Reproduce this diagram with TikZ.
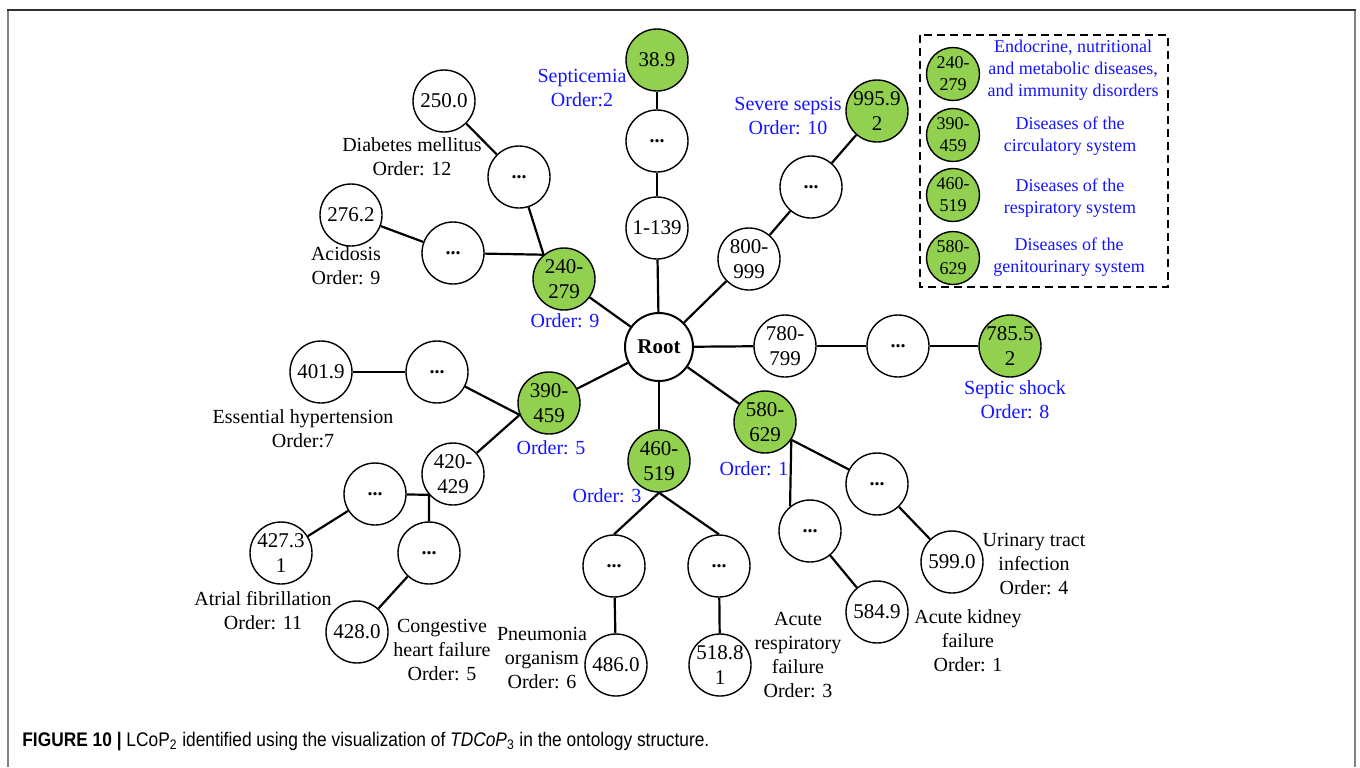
\documentclass[tikz,border=0pt]{standalone}
\usepackage{graphicx}
\usepackage{fontspec}
\setmainfont{Liberation Serif}
\newfontfamily\capfont{Liberation Sans}
\definecolor{lgreen}{RGB}{146,208,80}
\definecolor{lblue}{RGB}{20,20,255}
\definecolor{framegray}{RGB}{130,130,130}
\definecolor{framedark}{RGB}{50,50,50}
\tikzset{
 circ/.style={circle, draw, line width=0.7pt, minimum size=31pt, inner sep=0pt, align=center, font=\rmfamily\fontsize{10.5}{12.5}\selectfont},
 gcirc/.style={circ, fill=lgreen},
 dotc/.style={circ, font=\rmfamily\bfseries\fontsize{10}{12}\selectfont},
 edge/.style={line width=1.1pt},
 lbl/.style={align=center, font=\rmfamily\fontsize{10}{12}\selectfont, inner sep=0pt},
 blbl/.style={lbl, text=lblue},
 legc/.style={circle, draw, fill=lgreen, line width=0.7pt, minimum size=26.5pt, inner sep=0pt, align=center, font=\rmfamily\fontsize{9}{11}\selectfont},
 legt/.style={align=center, text=lblue, font=\rmfamily\fontsize{9}{11}\selectfont, inner sep=0pt},
}
\begin{document}
\begin{tikzpicture}[x=0.5pt,y=-0.5pt]
\useasboundingbox (0,0) rectangle (1360,767);
% frame
\draw[framegray, line width=1pt] (8,10) -- (8,767);
\draw[framegray, line width=1pt] (1355,10) -- (1355,767);
\draw[framedark, line width=1pt] (7,10) -- (1356,10);

% root
\node[circ, minimum size=34pt, line width=1pt, font=\rmfamily\bfseries\fontsize{10.5}{12.5}\selectfont] (root) at (659,347) {Root};

% top branch
\node[circ] (n1) at (657,228) {1-139};
\node[dotc] (e0) at (657,141) {...};
\node[gcirc] (g389) at (657,60) {38.9};
\node[blbl] (lsep) at (582,88) {Septicemia\\Order:2};

% 800-999 branch
\node[circ] (n800) at (749,259) {800-\\999};
\node[dotc] (e11) at (811,187) {...};
\node[gcirc] (g995) at (877,111) {995.9\\2};
\node[blbl] (lsev) at (788,116) {Severe sepsis\\Order: 10};

% 240-279 branch
\node[gcirc] (g240) at (564,279) {240-\\279};
\node[blbl] (l240) at (565,321) {Order: 9};
\node[dotc] (e1) at (519,177) {...};
\node[circ] (n250) at (444,101) {250.0};
\node[lbl] (ldia) at (412,157) {Diabetes mellitus\\Order: 12};
\node[dotc] (e2) at (453,253) {...};
\node[circ] (n276) at (351,215) {276.2};
\node[lbl] (laci) at (346,266) {Acidosis\\Order: 9};

% 390-459 branch
\node[gcirc] (g390) at (549,403) {390-\\459};
\node[blbl] (l390) at (551,448) {Order: 5};
\node[dotc] (e3) at (437,372) {...};
\node[circ] (n401) at (321,372) {401.9};
\node[lbl] (lhyp) at (303,429) {Essential hypertension\\Order:7};
\node[circ] (n420) at (453,474) {420-\\429};
\node[dotc] (e4) at (375,494) {...};
\node[dotc] (e5) at (429,553) {...};
\node[circ] (n427) at (281,553) {427.3\\1};
\node[lbl] (latr) at (263,611) {Atrial fibrillation\\Order: 11};
\node[circ] (n428) at (357,632) {428.0};
\node[lbl] (lchf) at (442,650) {Congestive\\heart failure\\Order: 5};

% 460-519 branch
\node[gcirc] (g460) at (659,461) {460-\\519};
\node[blbl] (l460) at (607,496) {Order: 3};
\node[dotc] (e6) at (614,566) {...};
\node[dotc] (e7) at (719,566) {...};
\node[circ] (n486) at (616,665) {486.0};
\node[circ] (n518) at (720,665) {518.8\\1};
\node[lbl] (lpne) at (542,658) {Pneumonia\\organism\\Order: 6};
\node[lbl] (lres) at (798,655) {Acute\\respiratory\\failure\\Order: 3};

% 580-629 branch
\node[gcirc] (g580) at (765,422) {580-\\629};
\node[blbl] (l580) at (754,469) {Order: 1};
\node[dotc] (e8) at (810,531) {...};
\node[dotc] (e9) at (877,484) {...};
\node[circ] (n584) at (877,612) {584.9};
\node[circ] (n599) at (952,562) {599.0};
\node[lbl] (luti) at (1034,564) {Urinary tract\\infection\\Order: 4};
\node[lbl] (lakf) at (968,641) {Acute kidney\\failure\\Order: 1};

% 780-799 branch
\node[circ] (n780) at (785,346) {780-\\799};
\node[dotc] (e10) at (898,346) {...};
\node[gcirc] (g785) at (1010,346) {785.5\\2};
\node[blbl] (lsho) at (1015,400) {Septic shock\\Order: 8};

% edges
\draw[edge] (root) -- (n1);
\draw[edge] (n1) -- (e0);
\draw[edge] (e0) -- (g389);
\draw[edge] (root) -- (n800);
\draw[edge] (n800) -- (e11);
\draw[edge] (e11) -- (g995);
\draw[edge] (root) -- (g240);
\draw[edge] (e1) -- (g240.130);
\draw[edge] (e2) -- (g240.130);
\draw[edge] (n250) -- (e1);
\draw[edge] (n276) -- (e2);
\draw[edge] (root) -- (g390);
\draw[edge] (e3) -- (g390.202);
\draw[edge] (n420) -- (g390.202);
\draw[edge] (n401) -- (e3);
\draw[edge] (e4) -- (n420.221);
\draw[edge] (n420.221) -- (e5);
\draw[edge] (n427) -- (e4);
\draw[edge] (e5) -- (n428);
\draw[edge] (root) -- (g460);
\draw[edge] (g460.south) -- (e6.north);
\draw[edge] (g460.south) -- (e7.north);
\draw[edge] (e6) -- (n486);
\draw[edge] (e7) -- (n518);
\draw[edge] (root) -- (g580);
\draw[edge] (g580.-34) -- (e9);
\draw[edge] (g580.-34) -- (e8.129);
\draw[edge] (e8) -- (n584);
\draw[edge] (e9) -- (n599);
\draw[edge] (root) -- (n780);
\draw[edge] (n780) -- (e10);
\draw[edge] (e10) -- (g785);

% legend
\draw[line width=0.7pt, dash pattern=on 4pt off 2.5pt] (920,35) rectangle (1168,287);
\node[legc] (k1) at (953,74) {240-\\279};
\node[legc] (k2) at (953,135) {390-\\459};
\node[legc] (k3) at (953,195) {460-\\519};
\node[legc] (k4) at (953,258) {580-\\629};
\node[legt] (t1) at (1073,70) {Endocrine, nutritional\\and metabolic diseases,\\and immunity disorders};
\node[legt] (t2) at (1070,136) {Diseases of the\\circulatory system};
\node[legt] (t3) at (1070,198) {Diseases of the\\respiratory system};
\node[legt] (t4) at (1069,257) {Diseases of the\\genitourinary system};

% caption
\node[anchor=base west, inner sep=0pt, font=\capfont\fontsize{9.85}{11}\selectfont] (cap) at (22,746) {\scalebox{0.88}[1]{\textbf{FIGURE 10 |} LCoP\textsubscript{2} identified using the visualization of \textit{TDCoP}\textsubscript{3} in the ontology structure.}};
\end{tikzpicture}
\end{document}
